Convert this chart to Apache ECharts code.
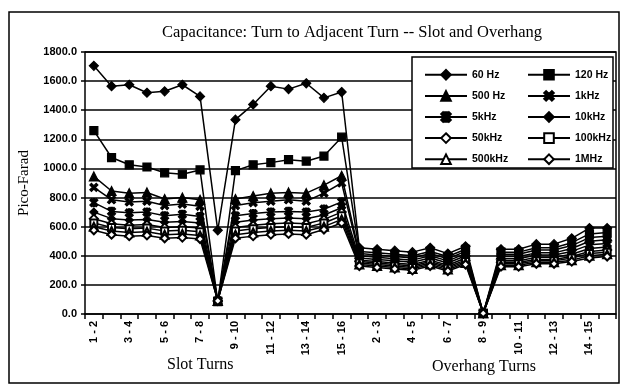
<!DOCTYPE html>
<html>
<head>
<meta charset="utf-8">
<script src="https://cdn.jsdelivr.net/npm/echarts@6/dist/echarts.min.js"></script>
<style>
  html, body { margin: 0; padding: 0; background: #fff; }
  #chart { width: 624px; height: 386px; }
</style>
</head>
<body>
<div id="chart"></div>
<script>
// Turn pairs: 15 slot positions followed by 15 overhang positions
const slotTurns = ['1 - 2','2 - 3','3 - 4','4 - 5','5 - 6','6 - 7','7 - 8','8 - 9','9 - 10','10 - 11','11 - 12','12 - 13','13 - 14','14 - 15','15 - 16'];
const overhangTurns = ['1 - 2','2 - 3','3 - 4','4 - 5','5 - 6','6 - 7','7 - 8','8 - 9','9 - 10','10 - 11','11 - 12','12 - 13','13 - 14','14 - 15','15 - 16'];

const yTicks = [0, 200, 400, 600, 800, 1000, 1200, 1400, 1600, 1800];

// Capacitance in pF per frequency (slot values, then overhang values)
const hz60   = [1705, 1565, 1575, 1520, 1530, 1575, 1495, 575, 1335, 1440, 1565, 1545, 1585, 1485, 1525, 455, 445, 435, 425, 455, 415, 465, 5, 445, 445, 480, 480, 520, 590, 590];
const hz120  = [1260, 1075, 1025, 1010, 970, 960, 990, 85, 985, 1025, 1040, 1060, 1050, 1085, 1215, 430, 420, 410, 400, 430, 395, 445, 5, 425, 425, 455, 455, 490, 550, 560];
const hz500  = [945, 845, 830, 835, 790, 800, 785, 90, 790, 810, 830, 835, 830, 885, 950, 415, 405, 395, 385, 415, 380, 430, 5, 410, 410, 440, 440, 470, 525, 535];
const khz1   = [870, 785, 770, 775, 745, 755, 740, 90, 745, 765, 775, 785, 775, 830, 900, 400, 390, 380, 370, 400, 365, 415, 5, 395, 395, 420, 420, 450, 500, 510];
const khz5   = [765, 705, 695, 700, 675, 685, 670, 90, 675, 690, 700, 705, 700, 720, 770, 385, 375, 365, 355, 385, 350, 400, 5, 380, 380, 405, 405, 430, 475, 485];
const khz10  = [700, 655, 645, 650, 630, 635, 625, 90, 630, 645, 655, 660, 655, 680, 730, 370, 360, 350, 340, 370, 335, 385, 5, 365, 365, 390, 390, 410, 450, 460];
const khz50  = [655, 620, 610, 615, 595, 600, 590, 90, 595, 610, 620, 625, 620, 650, 700, 360, 350, 340, 330, 360, 325, 370, 5, 355, 355, 375, 375, 395, 430, 440];
const khz100 = [625, 595, 585, 590, 570, 575, 565, 90, 570, 585, 595, 600, 595, 625, 675, 350, 340, 330, 320, 350, 315, 360, 5, 345, 345, 365, 365, 385, 415, 425];
const khz500 = [600, 570, 560, 565, 545, 550, 540, 90, 545, 560, 570, 575, 570, 600, 650, 340, 330, 320, 310, 340, 305, 350, 5, 335, 335, 355, 355, 370, 400, 410];
const mhz1   = [575, 545, 535, 540, 520, 525, 515, 90, 520, 535, 545, 550, 545, 580, 625, 330, 320, 310, 300, 330, 295, 340, 5, 325, 325, 345, 345, 360, 385, 395];

const seriesNames = ['60 Hz', '120 Hz', '500 Hz', '1kHz', '5kHz', '10kHz', '50kHz', '100kHz', '500kHz', '1MHz'];
const seriesData = [hz60, hz120, hz500, khz1, khz5, khz10, khz50, khz100, khz500, mhz1];

// marker shapes
const crossPath = 'path://M2,0L5,3L8,0L10,2L7,5L10,8L8,10L5,7L2,10L0,8L3,5L0,2Z';
const starPath = 'path://M2,0L5,3L8,0L10,2L7,5L10,8L8,10L5,7L2,10L0,8L3,5L0,2Z M4,0L6,0L6,10L4,10Z';
const symbols = ['diamond', 'rect', 'triangle', crossPath, starPath, 'diamond', 'emptyDiamond', 'emptyRect', 'emptyTriangle', 'emptyDiamond'];
const sizes = [9, 8, 9, 8, 8, 8, 8, 7, 8, 8];

const categories = slotTurns.concat(overhangTurns);

const sansBold = { fontFamily: 'Liberation Sans', fontWeight: 'bold', fontSize: 11, color: '#000' };
const serif = 'Liberation Serif';

const chart = echarts.init(document.getElementById('chart'), null, { renderer: 'canvas' });

const series = seriesNames.map((name, i) => ({
  name: name,
  type: 'line',
  data: seriesData[i],
  symbol: symbols[i],
  symbolSize: sizes[i],
  showAllSymbol: true,
  lineStyle: { color: '#000', width: 1.5 },
  itemStyle: { color: '#000', borderColor: '#000', borderWidth: 1.2 },
  emphasis: { disabled: true },
  animation: false,
  z: 2
}));

const legendBase = {
  orient: 'vertical',
  top: 64,
  itemWidth: 42,
  itemHeight: 12,
  itemGap: 9.5,
  textStyle: { fontFamily: 'Liberation Sans', fontWeight: 'bold', fontSize: 10.5, color: '#000' },
  selectedMode: false,
  z: 5
};

chart.setOption({
  animation: false,
  backgroundColor: '#fff',
  title: {
    text: 'Capacitance: Turn to Adjacent Turn -- Slot and Overhang',
    left: 347,
    textAlign: 'center',
    top: 19,
    textStyle: { fontFamily: serif, fontWeight: 'normal', fontSize: 16.5, color: '#000' }
  },
  grid: { left: 85, right: 8, top: 52, bottom: 72, containLabel: false },
  legend: [
    Object.assign({}, legendBase, { left: 419, data: ['60 Hz', '500 Hz', '5kHz', '50kHz', '500kHz'] }),
    Object.assign({}, legendBase, { left: 522, data: ['120 Hz', '1kHz', '10kHz', '100kHz', '1MHz'] })
  ],
  xAxis: {
    type: 'category',
    data: categories,
    boundaryGap: true,
    axisLine: { lineStyle: { color: '#000', width: 1.5 } },
    axisTick: { show: true, interval: 0, length: 5, lineStyle: { color: '#000', width: 1.5 } },
    axisLabel: Object.assign({ interval: 1, rotate: 90, margin: 7 }, sansBold),
    splitLine: { show: false }
  },
  yAxis: {
    type: 'value',
    min: yTicks[0],
    max: yTicks[yTicks.length - 1],
    interval: 200,
    name: 'Pico-Farad',
    nameLocation: 'middle',
    nameGap: 53,
    nameRotate: 90,
    nameTextStyle: { fontFamily: serif, fontSize: 15, color: '#000' },
    axisLine: { show: true, lineStyle: { color: '#000', width: 1.5 } },
    axisTick: { show: true, length: 4, lineStyle: { color: '#000', width: 1.5 } },
    axisLabel: Object.assign({ margin: 8, formatter: v => v.toFixed(1) }, sansBold),
    splitLine: { show: true, lineStyle: { color: '#000', width: 1.5 } }
  },
  graphic: [
    // outer frame
    { type: 'rect', shape: { x: 9, y: 12, width: 610, height: 371 }, style: { fill: 'none', stroke: '#000', lineWidth: 1.5 }, z: 1, silent: true },
    // plot frame top and right
    { type: 'polyline', shape: { points: [[85, 52], [616, 52], [616, 314]] }, style: { fill: 'none', stroke: '#000', lineWidth: 1.5 }, z: 1, silent: true },
    // legend box
    { type: 'rect', shape: { x: 412, y: 57, width: 201, height: 111 }, style: { fill: '#fff', stroke: '#000', lineWidth: 1.5 }, z: 4, silent: true },
    { type: 'text', left: 167, top: 357, style: { text: 'Slot Turns', font: '16px "Liberation Serif"', fill: '#000' }, z: 5, silent: true },
    { type: 'text', left: 432, top: 359, style: { text: 'Overhang Turns', font: '16px "Liberation Serif"', fill: '#000' }, z: 5, silent: true }
  ],
  series: series
});
</script>
</body>
</html>
